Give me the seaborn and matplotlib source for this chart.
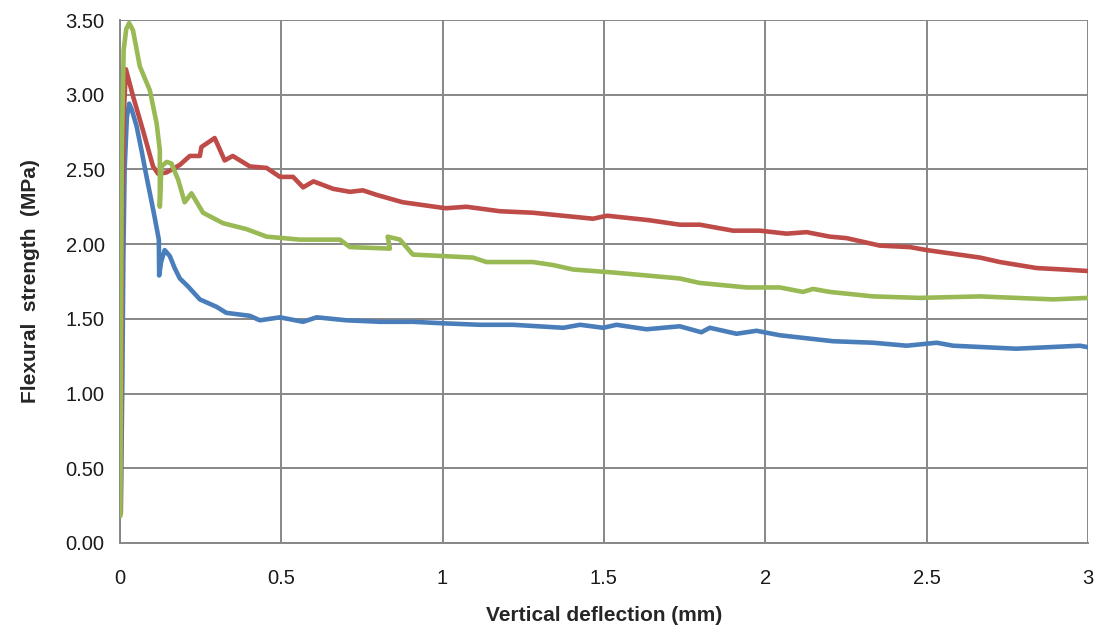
import matplotlib
matplotlib.use("Agg")
import matplotlib.pyplot as plt
import seaborn as sns
import pandas as pd

# ---- data ----
blue_x = [0.003, 0.008, 0.011, 0.015, 0.022, 0.029, 0.037, 0.052, 0.068, 0.083, 0.097, 0.108,
          0.121, 0.122, 0.128, 0.139, 0.155, 0.170, 0.186, 0.210, 0.248, 0.300, 0.330, 0.403,
          0.434, 0.496, 0.568, 0.610, 0.703, 0.806, 0.909, 1.002, 1.116, 1.219, 1.374, 1.426,
          1.498, 1.539, 1.632, 1.735, 1.802, 1.828, 1.911, 1.973, 2.045, 2.210, 2.334, 2.438,
          2.531, 2.582, 2.778, 2.975, 3.000]
blue_y = [0.20, 1.10, 1.90, 2.50, 2.85, 2.94, 2.90, 2.79, 2.62, 2.45, 2.30, 2.18,
          2.03, 1.79, 1.88, 1.96, 1.92, 1.84, 1.77, 1.72, 1.63, 1.58, 1.54, 1.52,
          1.49, 1.51, 1.48, 1.51, 1.49, 1.48, 1.48, 1.47, 1.46, 1.46, 1.44, 1.46,
          1.44, 1.46, 1.43, 1.45, 1.41, 1.44, 1.40, 1.42, 1.39, 1.35, 1.34, 1.32,
          1.34, 1.32, 1.30, 1.32, 1.31]

red_x = [0.003, 0.008, 0.013, 0.019, 0.041, 0.072, 0.103, 0.119, 0.145, 0.186, 0.217, 0.248,
         0.253, 0.294, 0.325, 0.350, 0.403, 0.455, 0.496, 0.537, 0.568, 0.600, 0.661, 0.713,
         0.753, 0.795, 0.877, 1.010, 1.074, 1.178, 1.280, 1.466, 1.510, 1.640, 1.735, 1.797,
         1.900, 1.983, 2.066, 2.128, 2.200, 2.252, 2.355, 2.448, 2.500, 2.665, 2.727, 2.840,
         2.923, 3.000]
red_y = [0.20, 2.30, 2.90, 3.17, 2.99, 2.76, 2.52, 2.47, 2.48, 2.53, 2.59, 2.59,
         2.65, 2.71, 2.56, 2.59, 2.52, 2.51, 2.45, 2.45, 2.38, 2.42, 2.37, 2.35,
         2.36, 2.33, 2.28, 2.24, 2.25, 2.22, 2.21, 2.17, 2.19, 2.16, 2.13, 2.13,
         2.09, 2.09, 2.07, 2.08, 2.05, 2.04, 1.99, 1.98, 1.96, 1.91, 1.88, 1.84,
         1.83, 1.82]

green_x = [0.002, 0.006, 0.012, 0.020, 0.029, 0.041, 0.062, 0.093, 0.114, 0.124, 0.124, 0.129,
           0.145, 0.160, 0.181, 0.201, 0.222, 0.258, 0.320, 0.393, 0.455, 0.558, 0.682, 0.713,
           0.837, 0.830, 0.868, 0.908, 1.000, 1.094, 1.136, 1.280, 1.342, 1.405, 1.529, 1.684,
           1.735, 1.797, 1.942, 2.045, 2.117, 2.148, 2.200, 2.334, 2.479, 2.665, 2.892, 3.000]
green_y = [0.18, 2.60, 3.30, 3.44, 3.48, 3.43, 3.19, 3.03, 2.81, 2.63, 2.25, 2.52,
           2.55, 2.54, 2.43, 2.28, 2.34, 2.21, 2.14, 2.10, 2.05, 2.03, 2.03, 1.98,
           1.97, 2.05, 2.03, 1.93, 1.92, 1.91, 1.88, 1.88, 1.86, 1.83, 1.81, 1.78,
           1.77, 1.74, 1.71, 1.71, 1.68, 1.70, 1.68, 1.65, 1.64, 1.65, 1.63, 1.64]

x_ticks = [0, 0.5, 1, 1.5, 2, 2.5, 3]
x_tick_labels = ["0", "0.5", "1", "1.5", "2", "2.5", "3"]
y_ticks = [0.0, 0.5, 1.0, 1.5, 2.0, 2.5, 3.0, 3.5]
y_tick_labels = ["0.00", "0.50", "1.00", "1.50", "2.00", "2.50", "3.00", "3.50"]

x_label = "Vertical deflection (mm)"
y_label = "Flexural  strength  (MPa)"

series = [("blue", blue_x, blue_y, "#4A7EBB"),
          ("red", red_x, red_y, "#BE4B48"),
          ("green", green_x, green_y, "#98B954")]

# ---- styling ----
sns.set_style("white")
plt.rcParams["font.family"] = ["Liberation Sans", "DejaVu Sans"]
GRID = "#878787"

fig = plt.figure(figsize=(10.99, 6.35), dpi=100)
ax = fig.add_axes([0.109, 0.145, 0.881, 0.8235])

for name, xs, ys, col in series:
    df = pd.DataFrame({"x": xs, "y": ys})
    sns.lineplot(data=df, x="x", y="y", sort=False, estimator=None,
                 color=col, linewidth=3.3, ax=ax, zorder=3)
for ln in ax.get_lines():
    ln.set_solid_joinstyle("round")
    ln.set_solid_capstyle("round")

ax.set_xlim(0, 3)
ax.set_ylim(0, 3.5)
ax.set_xticks(x_ticks)
ax.set_yticks(y_ticks)
ax.set_yticklabels(y_tick_labels, fontsize=14.5, color="#1a1a1a")
ax.set_xticklabels(x_tick_labels, fontsize=14.5, color="#1a1a1a")
ax.grid(True, color=GRID, linewidth=1.4)
ax.set_axisbelow(True)
for s in ["top", "right"]:
    ax.spines[s].set_visible(False)
for s in ["left", "bottom"]:
    ax.spines[s].set_color(GRID)
    ax.spines[s].set_linewidth(1.4)
ax.tick_params(axis="both", direction="out", length=5, width=1.2, color=GRID)
ax.tick_params(axis="x", pad=14)
ax.tick_params(axis="y", pad=6)

ax.set_xlabel(x_label, fontsize=15, fontweight="bold", labelpad=13)
ax.set_ylabel(y_label, fontsize=15, fontweight="bold", labelpad=18)

fig.savefig("out.png", dpi=100, facecolor="white")
